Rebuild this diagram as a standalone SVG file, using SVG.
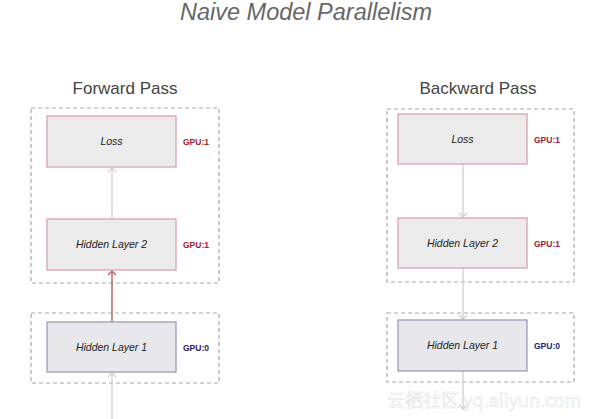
<svg xmlns="http://www.w3.org/2000/svg" width="591" height="419" viewBox="0 0 591 419">
<defs>
<style>
.title{font-family:"Liberation Sans",Arial,sans-serif;font-style:italic;font-size:23.5px;fill:#666;}
.pass{font-family:"Liberation Sans",Arial,sans-serif;font-size:17px;fill:#444;}
.grp{fill:none;stroke:#aaa;stroke-width:1.2;stroke-dasharray:4,3;}
.n1{fill:#ebebeb;stroke:#d8a4ab;stroke-width:1.3;}
.n0{fill:#e8e8ec;stroke:#9c9cb6;stroke-width:1.3;}
.lbl{font-family:"Liberation Sans",Arial,sans-serif;font-style:italic;font-size:10.5px;fill:#222;text-anchor:middle;}
.g1{font-family:"Liberation Sans",Arial,sans-serif;font-weight:bold;font-size:8.5px;fill:#a0202e;}
.g0{font-family:"Liberation Sans",Arial,sans-serif;font-weight:bold;font-size:8.5px;fill:#22226e;}
.e{fill:none;stroke:#ccc;stroke-width:1.2;}
.er{fill:none;stroke:#b06870;stroke-width:1.5;}
.wm{font-family:"Noto Sans CJK SC","Liberation Sans",sans-serif;font-size:18px;fill:#fff;fill-opacity:0.85;stroke:#ddd;stroke-width:0.5;}
</style>
<marker id="ah" markerWidth="10" markerHeight="10" refX="5" refY="5" orient="auto" markerUnits="userSpaceOnUse"><path d="M1,1 L5,5 L1,9" fill="none" stroke="#ccc" stroke-width="1.2"/></marker>
<marker id="ahr" markerWidth="10" markerHeight="10" refX="5" refY="5" orient="auto" markerUnits="userSpaceOnUse"><path d="M1,1 L5,5 L1,9" fill="none" stroke="#b06870" stroke-width="1.5"/></marker>
</defs>
<rect width="591" height="419" fill="#fff"/>
<text class="title" x="306" y="20" text-anchor="middle">Naive Model Parallelism</text>
<text class="pass" x="125" y="94" text-anchor="middle">Forward Pass</text>
<text class="pass" x="478" y="94" text-anchor="middle">Backward Pass</text>

<g id="groups">
<rect class="grp" x="31" y="108" width="188" height="175"/>
<rect class="grp" x="31" y="313" width="188" height="70"/>
<rect class="grp" x="387" y="109" width="187" height="173"/>
<rect class="grp" x="387" y="313" width="187" height="69"/>
</g>

<g id="connectors">
<line class="e" x1="112" y1="219" x2="112" y2="168" marker-end="url(#ah)"/>
<line class="er" x1="112" y1="322" x2="112" y2="271" marker-end="url(#ahr)"/>
<line class="e" x1="112" y1="419" x2="112" y2="373" marker-end="url(#ah)"/>
<line class="e" x1="463" y1="164" x2="463" y2="217" marker-end="url(#ah)"/>
<line class="e" x1="463" y1="268" x2="463" y2="319" marker-end="url(#ah)"/>
<line class="e" x1="463" y1="371" x2="463" y2="409" marker-end="url(#ah)"/>
</g>

<g id="fwd-loss">
<rect class="n1" x="47" y="116" width="129" height="51"/>
<text class="lbl" x="111.5" y="145">Loss</text>
<text class="g1" x="183" y="145">GPU:1</text>
</g>
<g id="fwd-hidden2">
<rect class="n1" x="47" y="219" width="129" height="51"/>
<text class="lbl" x="111.5" y="248">Hidden Layer 2</text>
<text class="g1" x="183" y="248">GPU:1</text>
</g>
<g id="fwd-hidden1">
<rect class="n0" x="47" y="322" width="129" height="50"/>
<text class="lbl" x="111.5" y="351">Hidden Layer 1</text>
<text class="g0" x="183" y="351">GPU:0</text>
</g>

<g id="bwd-loss">
<rect class="n1" x="398" y="114" width="129" height="50"/>
<text class="lbl" x="462.5" y="143">Loss</text>
<text class="g1" x="534" y="143">GPU:1</text>
</g>
<g id="bwd-hidden2">
<rect class="n1" x="398" y="218" width="129" height="50"/>
<text class="lbl" x="462.5" y="247">Hidden Layer 2</text>
<text class="g1" x="534" y="247">GPU:1</text>
</g>
<g id="bwd-hidden1">
<rect class="n0" x="398" y="320" width="129" height="51"/>
<text class="lbl" x="462.5" y="349">Hidden Layer 1</text>
<text class="g0" x="534" y="349">GPU:0</text>
</g>

<text class="wm" x="387" y="407">云栖社区 yq.aliyun.com</text>
</svg>
